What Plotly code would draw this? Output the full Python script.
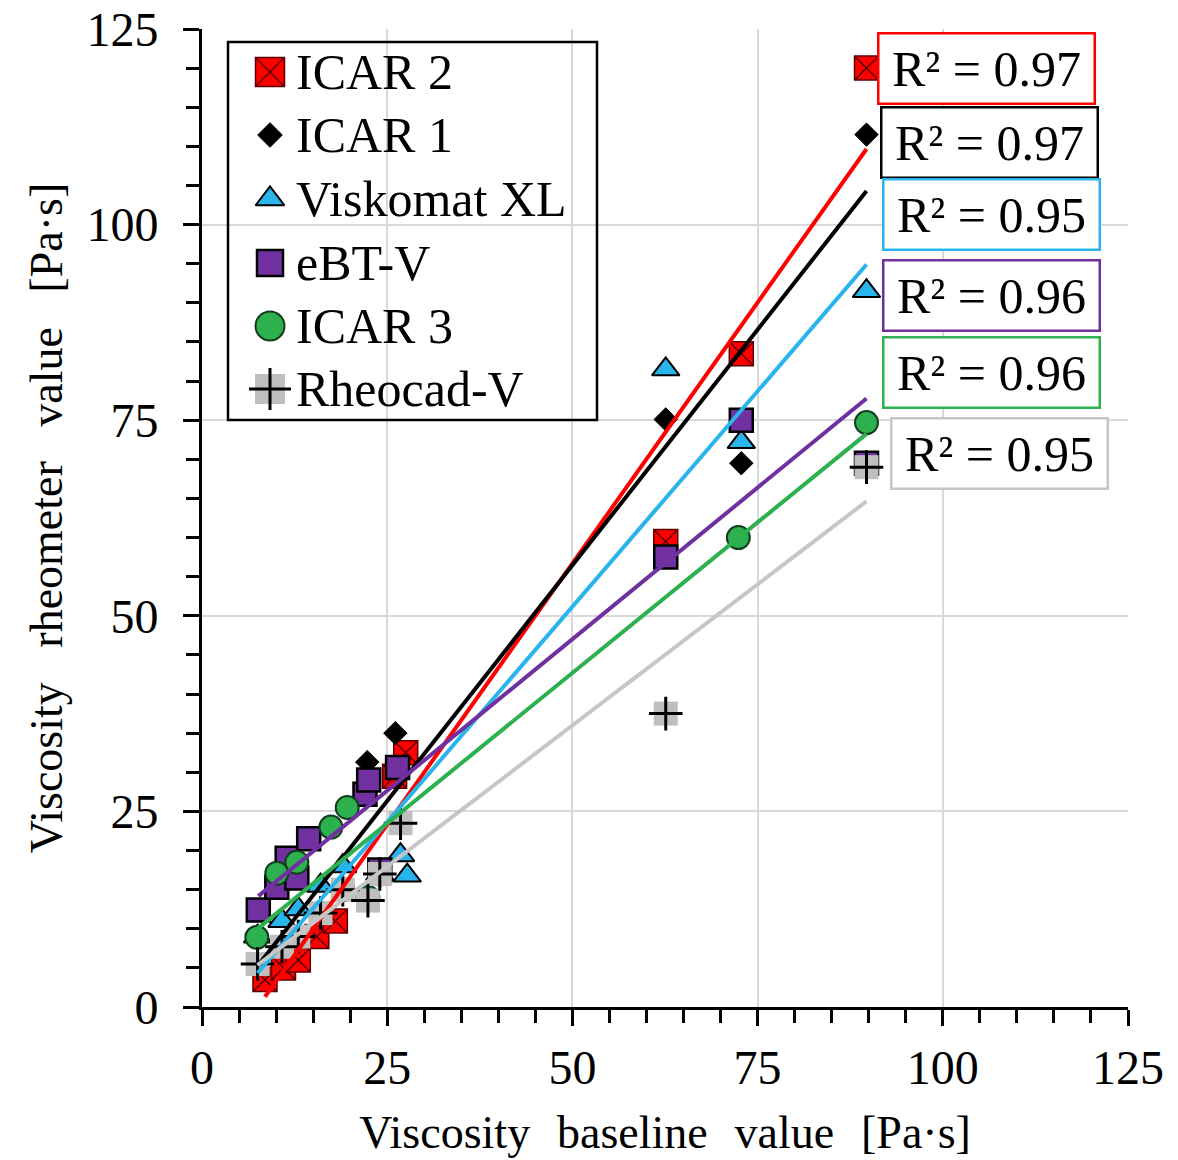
import numpy as np
import plotly.graph_objects as go

# ---- data ----
icar2_x = [8.5, 11.0, 13.0, 15.5, 18.0, 26.0, 27.5, 62.6, 72.8, 89.7]
icar2_y = [3.5, 5.0, 6.0, 9.0, 11.0, 29.5, 32.5, 59.5, 83.5, 120.0]

icar1_x = [7.5, 10.8, 13.0, 16.0, 19.0, 22.3, 26.1, 62.6, 72.8, 89.7]
icar1_y = [5.5, 7.7, 9.0, 12.0, 15.0, 31.3, 35.0, 75.1, 69.5, 111.5]

visk_x = [7.5, 10.8, 13.0, 16.0, 19.0, 24.0, 26.8, 27.7, 62.6, 72.8, 89.7]
visk_y = [9.0, 11.0, 12.5, 15.5, 18.0, 17.0, 19.4, 16.8, 81.5, 72.2, 91.5]

ebt_x = [7.6, 10.1, 11.5, 12.8, 14.4, 22.0, 22.5, 24.0, 26.4, 62.6, 72.8, 89.7]
ebt_y = [12.4, 15.3, 19.0, 16.5, 21.5, 27.2, 29.0, 17.5, 30.6, 57.5, 75.0, 69.5]

icar3_x = [7.4, 10.1, 12.8, 16.0, 17.4, 19.0, 19.6, 22.4, 24.0, 72.4, 89.7]
icar3_y = [8.9, 17.1, 18.5, 12.0, 23.0, 15.0, 25.5, 14.0, 17.0, 60.0, 74.7]

rheo_x = [7.5, 10.8, 13.0, 16.0, 19.0, 22.4, 24.0, 26.8, 62.6, 89.7]
rheo_y = [5.5, 7.7, 9.0, 12.0, 15.0, 13.6, 17.0, 23.5, 37.5, 69.0]

series_names = ["ICAR 2", "ICAR 1", "Viskomat XL", "eBT-V", "ICAR 3", "Rheocad-V"]
r2_labels = ["R² = 0.97", "R² = 0.97", "R² = 0.95", "R² = 0.96", "R² = 0.96", "R² = 0.95"]

x_ticks = [0, 25, 50, 75, 100, 125]
y_ticks = [0, 25, 50, 75, 100, 125]

RED = "#ff0000"
BLACK = "#000000"
BLUE = "#29b4ec"
PURPLE = "#7030a0"
GREEN = "#2db04e"
GRAY = "#bfbfbf"
GRAYLINE = "#c6c6c6"

FONT = "Liberation Serif"

fig = go.Figure()

def trend(xs, ys, color):
    xs = np.array(xs, float)
    ys = np.array(ys, float)
    m, b = np.polyfit(xs, ys, 1)
    lx = np.array([xs.min(), xs.max()])
    fig.add_trace(go.Scatter(x=lx, y=m * lx + b, mode="lines",
                             line=dict(color=color, width=4),
                             showlegend=False, hoverinfo="skip"))

marker_styles = [
    dict(symbol="square-x", color=RED, line=dict(color="#5a0000", width=1.5)),
    dict(symbol="diamond", color=BLACK, line=dict(color=BLACK, width=1)),
    dict(symbol="triangle-up", color=BLUE, line=dict(color=BLACK, width=2)),
    dict(symbol="square", color=PURPLE, line=dict(color=BLACK, width=2.5)),
    dict(symbol="circle", color=GREEN, line=dict(color="#123d1c", width=2)),
]
data_sizes = [24, 18, 24, 23, 23]
all_x = [icar2_x, icar1_x, visk_x, ebt_x, icar3_x]
all_y = [icar2_y, icar1_y, visk_y, ebt_y, icar3_y]

for xs, ys, st, sz, nm in zip(all_x, all_y, marker_styles, data_sizes, series_names):
    fig.add_trace(go.Scatter(x=xs, y=ys, mode="markers", name=nm, showlegend=False,
                             marker=dict(size=sz, **st)))
# Rheocad-V: grey square with black cross
fig.add_trace(go.Scatter(x=rheo_x, y=rheo_y, mode="markers", showlegend=False,
                         marker=dict(symbol="square", size=24, color=GRAY, line=dict(width=0))))
fig.add_trace(go.Scatter(x=rheo_x, y=rheo_y, mode="markers", showlegend=False,
                         marker=dict(symbol="cross-thin", size=24, color=BLACK,
                                     line=dict(color=BLACK, width=3))))

# trendlines
trend(icar2_x, icar2_y, RED)
trend(icar1_x, icar1_y, BLACK)
trend(visk_x, visk_y, BLUE)
trend(ebt_x, ebt_y, PURPLE)
trend(icar3_x, icar3_y, GREEN)
trend(rheo_x, rheo_y, GRAYLINE)

# R² annotation boxes
box_pos = [(0.8472, 0.9601), (0.8504, 0.8840), (0.8531, 0.8103),
           (0.8531, 0.7280), (0.8531, 0.6483), (0.8607, 0.5660)]
box_col = [RED, BLACK, BLUE, PURPLE, GREEN, GRAYLINE]
for (ax, ay), col, txt in zip(box_pos, box_col, r2_labels):
    fig.add_annotation(x=ax, y=ay, xref="paper", yref="paper", text=txt,
                       showarrow=False, xanchor="center", yanchor="middle",
                       font=dict(family=FONT, size=50, color="black"),
                       bgcolor="white", bordercolor=col, borderwidth=2.5,
                       borderpad=2, width=210, height=64)

# legend frame: white fill above grid, border on top
lx0, lx1 = (228 - 202) / 926, (597 - 202) / 926
ly0, ly1 = (1007 - 420) / 978, (1007 - 42) / 978
fig.add_shape(type="rect", xref="paper", yref="paper", x0=lx0, x1=lx1, y0=ly0, y1=ly1,
              line=dict(width=0), fillcolor="white", layer="between")
fig.add_shape(type="rect", xref="paper", yref="paper", x0=lx0, x1=lx1, y0=ly0, y1=ly1,
              line=dict(color="black", width=2.5), fillcolor="rgba(0,0,0,0)", layer="above")

leg_rows_px = [72, 135, 199, 263, 326, 389]
leg_y = [(1007 - p) / 978 for p in leg_rows_px]
leg_sym_x = (270 - 202) / 926
leg_txt_x = (294 - 202) / 926
leg_sizes = [29, 19, 25, 26, 29]
for i, (st, sz) in enumerate(zip(marker_styles, leg_sizes)):
    fig.add_trace(go.Scatter(x=[leg_sym_x], y=[leg_y[i]], xaxis="x2", yaxis="y2",
                             mode="markers", showlegend=False, hoverinfo="skip",
                             cliponaxis=False, marker=dict(size=sz, **st)))
fig.add_trace(go.Scatter(x=[leg_sym_x], y=[leg_y[5]], xaxis="x2", yaxis="y2",
                         mode="markers", showlegend=False, hoverinfo="skip", cliponaxis=False,
                         marker=dict(symbol="square", size=30, color=GRAY, line=dict(width=0))))
fig.add_trace(go.Scatter(x=[leg_sym_x], y=[leg_y[5]], xaxis="x2", yaxis="y2",
                         mode="markers", showlegend=False, hoverinfo="skip", cliponaxis=False,
                         marker=dict(symbol="cross-thin", size=30, color=BLACK,
                                     line=dict(color=BLACK, width=3))))
for i, nm in enumerate(series_names):
    fig.add_annotation(x=leg_txt_x, y=leg_y[i], xref="paper", yref="paper", text=nm,
                       showarrow=False, xanchor="left", yanchor="middle",
                       font=dict(family=FONT, size=50, color="black"))

axis_common = dict(
    showline=True, linecolor="black", linewidth=3, mirror=False,
    showgrid=True, gridcolor="#d9d9d9", gridwidth=2,
    ticks="outside", ticklen=16, tickwidth=2.5, tickcolor="black",
    tickfont=dict(family=FONT, size=48, color="black"),
    minor=dict(dtick=5, ticks="outside", ticklen=13, tickwidth=2.5,
               tickcolor="black", showgrid=False),
    zeroline=False, range=[0, 125], tickmode="array", automargin=False,
)

SPX = "\u00a0\u00a0\u200a"
SPY = "\u00a0\u00a0\u00a0"
fig.update_xaxes(**axis_common, tickvals=x_ticks, ticktext=[str(v) for v in x_ticks],
                 ticklabelstandoff=0,
                 title=dict(text=f"Viscosity{SPX}baseline{SPX}value{SPX}[Pa·s]",
                            font=dict(family=FONT, size=46, color="black"), standoff=24))
fig.update_yaxes(**axis_common, tickvals=y_ticks, ticktext=[str(v) for v in y_ticks],
                 ticklabelstandoff=15,
                 title=dict(text=f"Viscosity{SPY}rheometer{SPY}value{SPY}[Pa·s]",
                            font=dict(family=FONT, size=46, color="black"), standoff=10))

fig.update_layout(
    width=1178, height=1160,
    margin=dict(l=202, r=50, t=29, b=153, pad=0),
    plot_bgcolor="white", paper_bgcolor="white",
    showlegend=False,
    xaxis2=dict(overlaying="x", range=[0, 1], visible=False, fixedrange=True),
    yaxis2=dict(overlaying="y", range=[0, 1], visible=False, fixedrange=True),
)

fig.write_html("out.html")
